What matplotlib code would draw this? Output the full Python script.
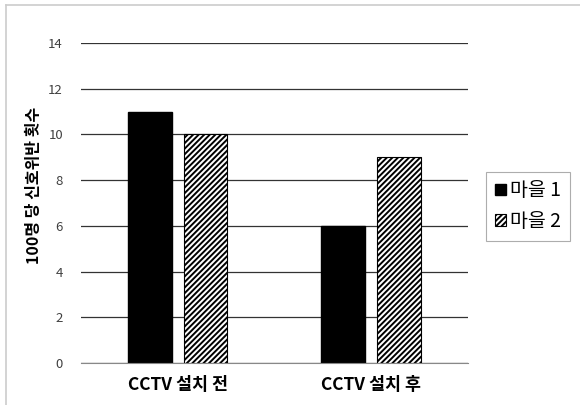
import matplotlib
matplotlib.use('Agg')
import numpy as np
from matplotlib import pyplot as plt
from matplotlib.lines import Line2D

plt.rcParams['font.family'] = ['Noto Sans CJK KR', 'DejaVu Sans']
plt.rcParams['hatch.linewidth'] = 1.4

groups = ['CCTV 설치 전', 'CCTV 설치 후']
series_names = ['마을 1', '마을 2']
town1 = [11, 6]
town2 = [10, 9]
yticks = [0, 2, 4, 6, 8, 10, 12, 14]

fig = plt.figure(figsize=(5.8, 4.05), dpi=100)
ax = fig.add_axes([0.1397, 0.1037, 0.667, 0.790])

x = np.arange(len(groups))
w = 0.227
off = 0.1434
ax.bar(x - off, town1, w, color='black', edgecolor='black', label=series_names[0], zorder=3)
ax.bar(x + off, town2, w, color='white', edgecolor='black', hatch='//////',
       linewidth=0.8, label=series_names[1], zorder=3)

ax.set_xlim(-0.5, 1.5)
ax.set_ylim(0, 14)
ax.set_yticks(yticks)
ax.set_yticklabels([str(v) for v in yticks], color='#404040', fontsize=9.5)
ax.tick_params(axis='y', length=0, pad=13)
ax.tick_params(axis='x', length=0, pad=9)
ax.set_xticks(x)
ax.set_xticklabels(groups, fontsize=12.5, fontweight='bold')
ax.grid(axis='y', color='#333333', linewidth=0.9, zorder=0)
for s in ['top', 'right', 'left']:
    ax.spines[s].set_visible(False)
ax.spines['bottom'].set_color('#888888')
ax.spines['bottom'].set_zorder(4)
ax.set_ylabel('100명 당 신호위반 횟수', fontsize=11.5, fontweight='bold')
ax.yaxis.set_label_coords(-0.10, 0.555)

leg = ax.legend(loc='center left', bbox_to_anchor=(1.047, 0.49), fontsize=14,
                frameon=True, fancybox=False, edgecolor='#999999',
                handlelength=0.55, handleheight=0.55, handletextpad=0.25,
                borderpad=0.45, labelspacing=0.5, borderaxespad=0)
leg.get_frame().set_linewidth(0.8)

# thin outer frame on the top and left edges
fig.add_artist(Line2D([6 / 580, 1], [1 - 5 / 405, 1 - 5 / 405], color='#cccccc', linewidth=1.2))
fig.add_artist(Line2D([6 / 580, 6 / 580], [0, 1 - 5 / 405], color='#cccccc', linewidth=1.2))

fig.savefig('out.png', dpi=100)
